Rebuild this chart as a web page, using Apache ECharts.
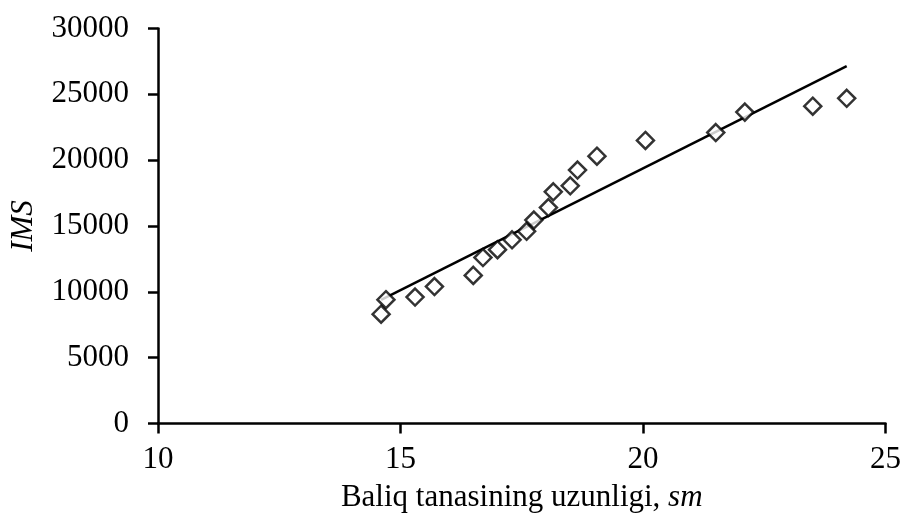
<!DOCTYPE html>
<html>
<head>
<meta charset="utf-8">
<script src="https://cdn.jsdelivr.net/npm/echarts@6/dist/echarts.min.js"></script>
<style>html,body{margin:0;padding:0;background:#fff;}#c{width:904px;height:520px;}</style>
</head>
<body>
<div id="c"></div>
<script>
// Fish body length (sm)
const lengths = [14.6, 14.7, 15.3, 15.7, 16.5, 16.7, 17.0, 17.3, 17.6, 17.75, 18.05, 18.15, 18.5, 18.65, 19.05, 20.05, 21.5, 22.1, 23.5, 24.2];
// IMS values
const imsValues = [8300, 9400, 9600, 10400, 11250, 12600, 13200, 13950, 14600, 15450, 16400, 17600, 18050, 19250, 20300, 21500, 22100, 23650, 24100, 24700];
const xTicks = [10, 15, 20, 25];
const yTicks = [0, 5000, 10000, 15000, 20000, 25000, 30000];

const points = lengths.map((x, i) => [x, imsValues[i]]);
// least-squares linear trend line
const n = lengths.length;
const mx = lengths.reduce((a, b) => a + b, 0) / n;
const my = imsValues.reduce((a, b) => a + b, 0) / n;
let sxy = 0, sxx = 0;
for (let i = 0; i < n; i++) { sxy += (lengths[i] - mx) * (imsValues[i] - my); sxx += (lengths[i] - mx) ** 2; }
const slope = sxy / sxx, icpt = my - slope * mx;
const xmin = Math.min(...lengths), xmax = Math.max(...lengths);
const trend = [[xmin, icpt + slope * xmin], [xmax, icpt + slope * xmax]];

const font = 'Liberation Serif';
const fs = 31;
const chart = echarts.init(document.getElementById('c'));
chart.setOption({
  animation: false,
  backgroundColor: '#fff',
  grid: { left: 157.5, right: 14, top: 28.5, bottom: 96.5, containLabel: false },
  xAxis: {
    type: 'value', min: xTicks[0], max: xTicks[xTicks.length - 1], interval: 5,
    splitLine: { show: false },
    axisLine: { show: true, onZero: false, lineStyle: { color: '#000', width: 2.5 } },
    axisTick: { show: true, inside: false, length: 10, lineStyle: { color: '#000', width: 2.5 } },
    axisLabel: { margin: 21, color: '#000', fontFamily: font, fontSize: fs, formatter: v => String(v) },
    name: '{n|Baliq tanasining uzunligi, }{i|sm}',
    nameLocation: 'middle', nameGap: 59,
    nameTextStyle: { rich: { n: { fontFamily: font, fontSize: fs, color: '#000' }, i: { fontFamily: font, fontSize: fs, fontStyle: 'italic', color: '#000' } } }
  },
  yAxis: {
    type: 'value', min: yTicks[0], max: yTicks[yTicks.length - 1], interval: 5000,
    splitLine: { show: false },
    axisLine: { show: true, onZero: false, lineStyle: { color: '#000', width: 2.5 } },
    axisTick: { show: true, inside: false, length: 10, lineStyle: { color: '#000', width: 2.5 } },
    axisLabel: { margin: 29, color: '#000', fontFamily: font, fontSize: fs, formatter: v => String(v) },
    name: 'IMS', nameLocation: 'middle', nameGap: 119, nameRotate: 90,
    nameTextStyle: { fontFamily: font, fontSize: fs, fontStyle: 'italic', color: '#000' }
  },
  series: [
    {
      type: 'line', data: trend, symbol: 'none', silent: true,
      lineStyle: { color: '#000', width: 2.5 }, z: 2
    },
    {
      type: 'scatter', data: points, symbol: 'diamond', symbolSize: [17, 17],
      itemStyle: { color: '#fff', borderColor: '#000', borderWidth: 2.5 }, z: 3
    }
  ]
});
</script>
</body>
</html>
